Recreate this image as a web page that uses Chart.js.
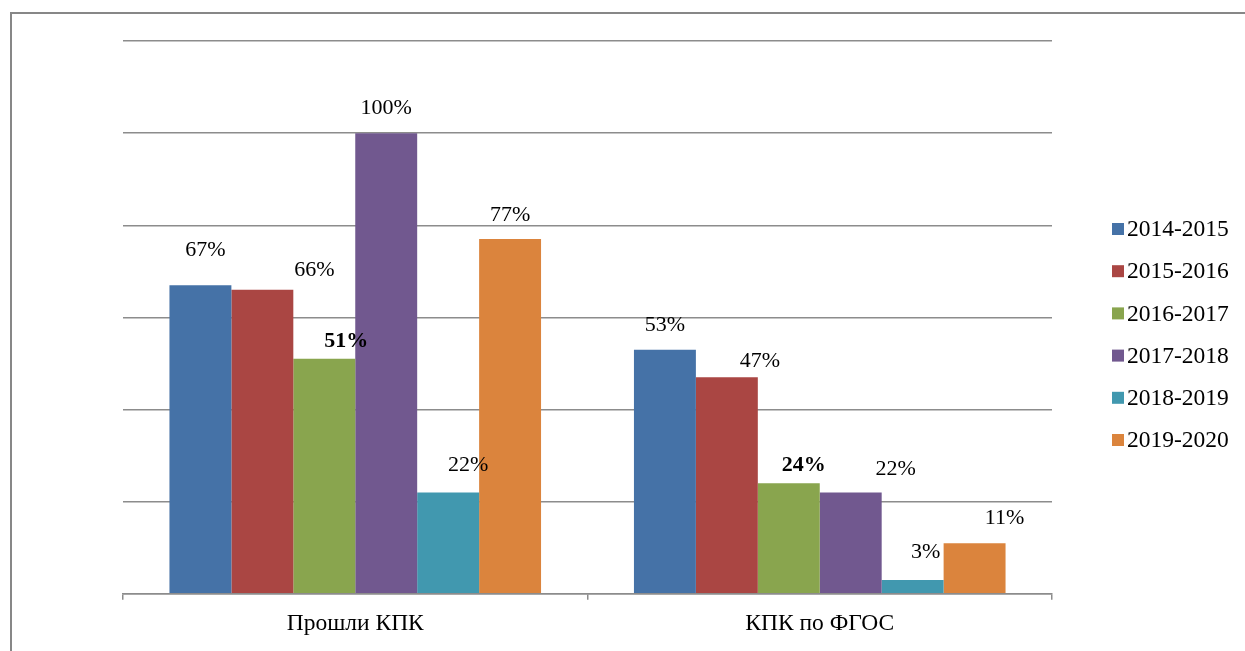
<!DOCTYPE html>
<html>
<head>
<meta charset="utf-8">
<script src="https://cdn.jsdelivr.net/npm/chart.js@4.4.0/dist/chart.umd.min.js"></script>
<style>
  body { margin: 0; background: #fff; }
  canvas { display: block; }
</style>
</head>
<body>
<canvas id="kpkChart" width="1245" height="651"></canvas>
<script>
const categories = ['Прошли КПК', 'КПК по ФГОС'];
const seriesNames = ['2014-2015', '2015-2016', '2016-2017', '2017-2018', '2018-2019', '2019-2020'];
const seriesValues = [
    [67, 53],
    [66, 47],
    [51, 24],
    [100, 22],
    [22, 3],
    [77, 11]
];
const yTicks = [0, 20, 40, 60, 80, 100, 120];

const colors = ['#4572A7', '#AA4643', '#89A54E', '#71588F', '#4198AF', '#DB843D'];
const boldSeries = [2];
// label placement relative to the bar top centre (px), per series / category
const labelLift = [[35, 24], [20, 16], [18, 18], [25, 23], [27, 28], [24, 25]];
const labelShift = [[5, 0], [52, 33], [22, 15], [0, 45], [20, 13], [0, 30]];
const fontFamily = '"Liberation Serif", "Times New Roman", serif';
const gridColor = '#8c8c8c';

const framePlugin = {
    id: 'frame',
    beforeDraw(chart) {
        const ctx = chart.ctx;
        ctx.save();
        ctx.strokeStyle = '#878787';
        ctx.lineWidth = 2;
        ctx.beginPath();
        ctx.moveTo(11, 651);
        ctx.lineTo(11, 13);
        ctx.lineTo(1245, 13);
        ctx.stroke();
        ctx.restore();
    }
};

const valueLabels = {
    id: 'valueLabels',
    afterDatasetsDraw(chart) {
        const ctx = chart.ctx;
        ctx.save();
        ctx.textAlign = 'center';
        ctx.textBaseline = 'middle';
        ctx.fillStyle = '#000';
        chart.data.datasets.forEach((ds, i) => {
            const meta = chart.getDatasetMeta(i);
            ctx.font = (boldSeries.includes(i) ? 'bold ' : '') + '22px ' + fontFamily;
            meta.data.forEach((bar, j) => {
                ctx.fillText(ds.data[j] + '%', bar.x + labelShift[i][j], bar.y - labelLift[i][j]);
            });
        });
        ctx.restore();
    }
};

const sideLegend = {
    id: 'sideLegend',
    afterDraw(chart) {
        const ctx = chart.ctx;
        ctx.save();
        ctx.font = '23.5px ' + fontFamily;
        ctx.textBaseline = 'middle';
        ctx.textAlign = 'left';
        chart.data.datasets.forEach((ds, i) => {
            const y = 229 + i * 42.2;
            ctx.fillStyle = ds.backgroundColor;
            ctx.fillRect(1112, y - 6, 12, 12);
            ctx.fillStyle = '#000';
            ctx.fillText(ds.label, 1127, y + 1);
        });
        ctx.restore();
    }
};

new Chart(document.getElementById('kpkChart'), {
    type: 'bar',
    data: {
        labels: categories,
        datasets: seriesNames.map((name, i) => ({
            label: name,
            data: seriesValues[i],
            backgroundColor: colors[i],
            borderWidth: 0,
            categoryPercentage: 0.8,
            barPercentage: 1.0
        }))
    },
    options: {
        responsive: false,
        animation: false,
        layout: { padding: { left: 123, right: 193, top: 41, bottom: 3 } },
        plugins: {
            legend: { display: false },
            tooltip: { enabled: false }
        },
        scales: {
            y: {
                min: 0,
                max: 120,
                afterBuildTicks: (axis) => { axis.ticks = yTicks.map(v => ({ value: v })); },
                ticks: { display: false },
                border: { display: false },
                grid: { color: gridColor, lineWidth: 1.5, drawTicks: false }
            },
            x: {
                border: { display: true, color: gridColor, width: 1.5 },
                grid: { drawOnChartArea: false, drawTicks: true, tickLength: 6, color: gridColor, lineWidth: 1.5 },
                ticks: { color: '#000', padding: 10, font: { family: fontFamily, size: 23.5 } }
            }
        }
    },
    plugins: [framePlugin, valueLabels, sideLegend]
});
</script>
</body>
</html>
